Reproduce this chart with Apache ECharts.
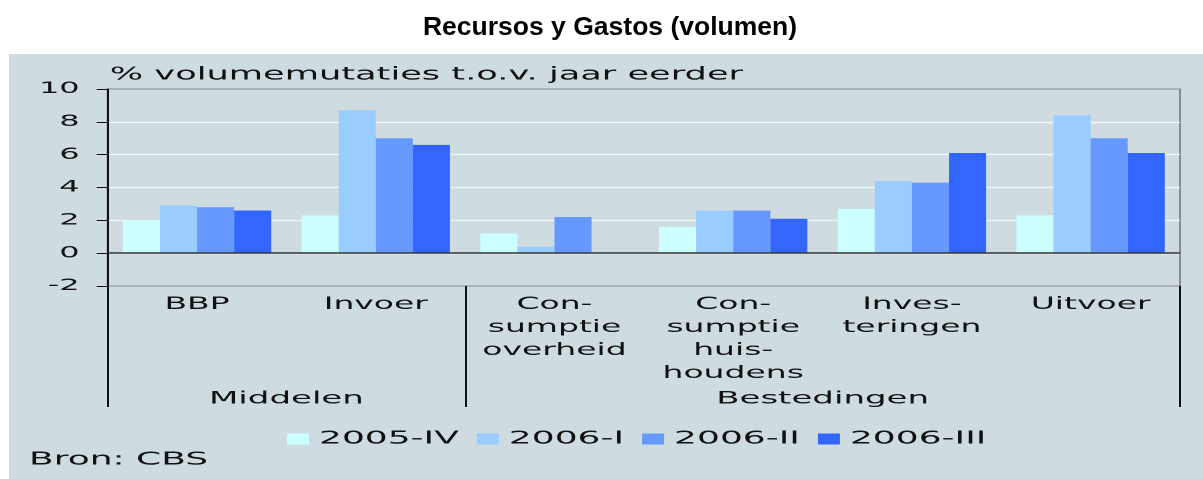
<!DOCTYPE html>
<html><head><meta charset="utf-8">
<script src="https://cdn.jsdelivr.net/npm/echarts@6/dist/echarts.min.js"></script>
<style>
html,body{margin:0;padding:0;background:#fff;overflow:hidden;width:1203px;height:479px;}
#title{position:absolute;left:0;top:0;width:1203px;height:479px;}
#panel{position:absolute;left:9px;top:54px;width:597px;height:425px;transform:scale(2,1);transform-origin:0 0;}
</style></head><body>
<div id="title"></div><div id="panel"></div>
<script>
// ---- data ----
const chartTitle = 'Recursos y Gastos (volumen)';
const axisName = '% volumemutaties t.o.v. jaar eerder';
const sourceText = 'Bron: CBS';
const categories = ['BBP', 'Invoer', 'Con-\nsumptie\noverheid', 'Con-\nsumptie\nhuis-\nhoudens', 'Inves-\nteringen', 'Uitvoer'];
const seriesNames = ['2005-IV', '2006-I', '2006-II', '2006-III'];
const v2005IV  = [2.0, 2.3, 1.2, 1.6, 2.7, 2.3];
const v2006I   = [2.9, 8.7, 0.4, 2.6, 4.4, 8.4];
const v2006II  = [2.8, 7.0, 2.2, 2.6, 4.3, 7.0];
const v2006III = [2.6, 6.6, 0,   2.1, 6.1, 6.1];
const groupNames = ['Middelen', 'Bestedingen'];
const groupBounds = [0, 2, 6];
const yMin = -2, yMax = 10, yInterval = 2;

// ---- styles ----
const colors = ['#ccffff', '#99ccff', '#6699ff', '#3366ff'];
const txt = '#111111';
const FONT = 'DejaVu Sans';
const seriesValues = [v2005IV, v2006I, v2006II, v2006III];
const groupMids = groupNames.map((g, i) => (groupBounds[i] + groupBounds[i + 1]) / 2);

const tChart = echarts.init(document.getElementById('title'), null, {renderer: 'canvas'});
tChart.setOption({
  backgroundColor: '#ffffff',
  title: {
    text: chartTitle, left: 610, top: 14, padding: 0, textAlign: 'center',
    textStyle: {fontFamily: 'Liberation Sans', fontWeight: 'bold', fontSize: 26.5, color: '#000'}
  }
});

const chart = echarts.init(document.getElementById('panel'), null, {renderer: 'canvas', devicePixelRatio: 2});
chart.setOption({
  animation: false,
  backgroundColor: '#cedce1',
  textStyle: {fontFamily: FONT, color: txt},
  title: {
    text: sourceText, left: 10, top: 397, padding: 0,
    textStyle: {fontFamily: FONT, fontWeight: 'normal', fontSize: 18, color: txt}
  },
  legend: {
    left: 139, top: 376, padding: 0,
    itemWidth: 11, itemHeight: 11, itemGap: 9, icon: 'rect',
    textStyle: {fontFamily: FONT, fontSize: 18, color: txt, padding: [0, 0, 0, 0]},
    data: seriesNames
  },
  grid: {
    left: 49.35, right: 11.5, top: 35, bottom: 193,
    show: true, borderColor: '#8a8a8a', borderWidth: 1, backgroundColor: 'transparent'
  },
  xAxis: [{
    type: 'category', data: categories, position: 'bottom',
    axisLine: {show: false, onZero: false}, axisTick: {show: false},
    axisLabel: {margin: 7, fontFamily: FONT, fontSize: 16.5, lineHeight: 23, color: txt, interval: 0}
  }, {
    type: 'value', min: 0, max: categories.length, position: 'bottom',
    axisLine: {show: false, onZero: false}, splitLine: {show: false},
    axisTick: {show: true, customValues: groupBounds, length: 121, inside: false,
      lineStyle: {color: '#111', width: 1}},
    axisLabel: {customValues: groupMids, margin: 103, fontFamily: FONT, fontSize: 17, lineHeight: 20, color: txt,
      formatter: (v) => groupNames[groupMids.indexOf(v)]}
  }],
  yAxis: {
    type: 'value', min: yMin, max: yMax, interval: yInterval,
    name: axisName, nameLocation: 'end', nameGap: 14,
    nameTextStyle: {align: 'left', verticalAlign: 'middle', fontFamily: FONT, fontSize: 17.6, color: txt, padding: [0, 0, 0, 1]},
    axisLine: {show: true, onZero: false, lineStyle: {color: '#111', width: 1}},
    axisTick: {show: true, length: 5.5, lineStyle: {color: '#111', width: 1}},
    axisLabel: {margin: 14, fontFamily: FONT, fontSize: 16, color: txt},
    splitLine: {show: true, showMinLine: false, showMaxLine: false, lineStyle: {color: '#f2f6f7', width: 1.2}}
  },
  series: seriesNames.map((name, i) => ({
    name: name, type: 'bar', xAxisIndex: 0, yAxisIndex: 0,
    data: seriesValues[i], barGap: '0%', barCategoryGap: '17%',
    itemStyle: {color: colors[i]},
    markLine: i === 0 ? {
      silent: true, symbol: 'none', label: {show: false},
      lineStyle: {color: '#333', width: 1.6, type: 'solid'},
      data: [{yAxis: 0}]
    } : undefined
  }))
});
</script>
</body></html>
